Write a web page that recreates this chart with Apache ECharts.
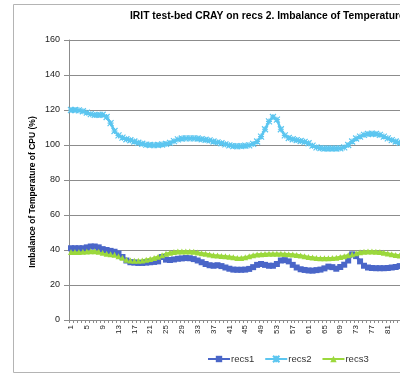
<!DOCTYPE html>
<html>
<head>
<meta charset="utf-8">
<script src="https://cdn.jsdelivr.net/npm/echarts@6/dist/echarts.min.js"></script>
<style>
  html, body { margin: 0; padding: 0; overflow: hidden; background: #fff; width: 400px; height: 375px; }
  #chart { width: 560px; height: 375px; }
</style>
</head>
<body>
<div id="chart"></div>
<script>
// Sample index along the run (1..120)
const categories = [];
for (let i = 1; i <= 120; i++) categories.push(String(i));

const yTicks = [0, 20, 40, 60, 80, 100, 120, 140, 160];

// Imbalance of CPU temperature (%) per record set
const recs1 = [
  41, 41, 41, 41, 41.5, 42, 42, 41.5, 40.5, 40,
  39.5, 39, 38, 36, 34, 33, 32.8, 32.6, 32.6, 32.8,
  33, 33.2, 33.5, 36, 34.5, 34.3, 34.6, 35, 35.2, 35.4,
  35.3, 34.8, 34, 33, 32, 31.3, 31, 31.3, 30.8, 30,
  29.3, 28.8, 28.7, 28.7, 28.8, 29.2, 30.2, 31.5, 32, 31.5,
  31, 31, 32, 34, 34.2, 33.5, 31.5, 30, 29, 28.6,
  28.3, 28.2, 28.5, 28.8, 29.5, 30.5, 30.2, 29.3, 30.3, 31.6,
  34, 37.5, 36.5, 33.5, 31, 30, 29.7, 29.6, 29.6, 29.6,
  29.7, 30, 30.3, 30.8
];

const recs2 = [
  120, 120, 119.8, 119.3, 118.5, 117.6, 117.2, 117.2, 117.3, 116,
  112.5, 108, 105.5, 104.2, 103.3, 102.7, 102, 101.3, 100.7, 100.2,
  100, 99.9, 100, 100.3, 100.6, 101.2, 102.2, 103.2, 103.7, 103.8,
  103.8, 103.8, 103.7, 103.3, 103, 102.6, 102, 101.5, 101, 100.4,
  99.8, 99.4, 99.3, 99.4, 99.6, 99.8, 100.6, 102, 104.8, 109,
  113.5, 116, 114.5, 109, 105.5, 104, 103.3, 102.8, 102.3, 101.8,
  101, 99.6, 98.6, 98.2, 98, 98, 98, 98, 98.1, 98.6,
  100, 102, 103.7, 104.8, 105.8, 106.3, 106.5, 106.3, 105.8, 104.8,
  103.8, 102.8, 102, 101.3
];

const recs3 = [
  38.8, 38.8, 38.9, 39, 39.2, 39.3, 39.3, 39, 38.5, 37.8,
  37.6, 37.3, 36.5, 35.6, 34.5, 34, 33.8, 33.8, 34, 34.4,
  34.8, 35.4, 36.2, 37, 37.8, 38.4, 38.8, 39.1, 39.2, 39.2,
  39.2, 39, 38.6, 38.2, 37.8, 37.4, 37, 36.8, 36.6, 36.4,
  36.2, 35.8, 35.5, 35.5, 35.8, 36.4, 37, 37.4, 37.6, 37.7,
  37.8, 37.8, 37.8, 37.8, 37.7, 37.6, 37.5, 37.2, 36.8, 36.4,
  36, 35.7, 35.4, 35.3, 35.3, 35.3, 35.4, 35.6, 36, 36.4,
  37, 37.6, 38.2, 38.7, 39, 39.1, 39.1, 39, 38.8, 38.4,
  38, 37.6, 37.2, 36.8
];

const FONT = 'Liberation Sans';
const starPath = 'path://M0,0L10,10M10,0L0,10M5,0L5,10M0,5L10,5';

function makeSeries(name, data, color, symbol, size) {
  return {
    name: name,
    type: 'line',
    data: data,
    symbol: symbol,
    symbolSize: size,
    showAllSymbol: true,
    smooth: false,
    lineStyle: { color: color, width: 2.5 },
    itemStyle: { color: color, borderColor: color, borderWidth: symbol === starPath ? 1.2 : 0 },
    emphasis: { disabled: true },
    animation: false
  };
}

const chart = echarts.init(document.getElementById('chart'), null, { renderer: 'canvas' });
chart.setOption({
  animation: false,
  backgroundColor: '#fff',
  title: {
    text: 'IRIT test-bed CRAY on recs 2. Imbalance of Temperature of CPU',
    left: 130,
    top: 11,
    padding: 0,
    textStyle: { fontFamily: FONT, fontWeight: 'bold', fontSize: 10.3, color: '#000' }
  },
  graphic: [{
    type: 'rect',
    shape: { x: 13.5, y: 4.5, width: 545, height: 368 },
    style: { fill: 'none', stroke: '#b4b4b4', lineWidth: 1 },
    z: -1
  }, {
    // y-axis title
    type: 'text',
    x: 33,
    y: 192,
    rotation: Math.PI / 2,
    style: {
      text: 'Imbalance of Temperature of CPU (%)',
      fontFamily: FONT,
      fontWeight: 'bold',
      fontSize: 8.5,
      fill: '#000',
      align: 'center',
      verticalAlign: 'middle'
    }
  }],
  legend: {
    left: 207,
    top: 354,
    padding: 0,
    itemWidth: 22,
    itemHeight: 8,
    itemGap: 10,
    textStyle: { fontFamily: FONT, fontSize: 9.5, color: '#333', padding: [0, 0, 0, -4] },
    data: ['recs1', 'recs2', 'recs3']
  },
  grid: { left: 69, top: 40, width: 475.2, height: 280, containLabel: false },
  xAxis: {
    type: 'category',
    data: categories,
    boundaryGap: true,
    axisLine: { lineStyle: { color: '#8c8c8c', width: 1 } },
    axisTick: { show: true, interval: 0, length: 3, lineStyle: { color: '#8c8c8c' } },
    axisLabel: {
      interval: 3,
      rotate: 90,
      margin: 5,
      fontFamily: FONT,
      fontSize: 8,
      color: '#222'
    },
    splitLine: { show: false }
  },
  yAxis: {
    type: 'value',
    min: yTicks[0],
    max: yTicks[yTicks.length - 1],
    interval: 20,
    axisLine: { show: true, lineStyle: { color: '#8c8c8c', width: 1 } },
    axisTick: { show: true, length: 5, lineStyle: { color: '#8c8c8c' } },
    axisLabel: { margin: 9, fontFamily: FONT, fontSize: 9, color: '#222' },
    splitLine: { lineStyle: { color: '#8c8c8c', width: 1 } }
  },
  series: [
    makeSeries('recs1', recs1, '#4a66c8', 'rect', 6),
    makeSeries('recs2', recs2, '#5cc6f0', starPath, 6),
    makeSeries('recs3', recs3, '#9bd83c', 'triangle', 6)
  ]
});
</script>
</body>
</html>
